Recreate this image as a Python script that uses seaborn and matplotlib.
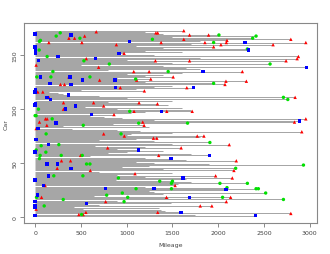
import matplotlib
matplotlib.use("Agg")
import matplotlib.pyplot as plt
import seaborn as sns
import pandas as pd

# end of observation (mileage) for each car, car 1 at the bottom
ends = [2407, 1750, 2795, 1596, 1420, 1380, 520, 1350, 420, 1932,
        700, 562, 1480, 2090, 900, 2714, 1450, 2137, 640, 782,
        1400, 2520, 1300, 1250, 2086, 2440, 2097, 1200, 1530, 1560,
        2320, 1700, 1501, 880, 1650, 2155, 1200, 1973, 900, 1092,
        1500, 700, 2173, 1400, 2192, 950, 1250, 2933, 1900, 1300,
        1100, 2199, 1650, 1483, 1200, 600, 1903, 1700, 800, 1000,
        1400, 1129, 900, 1596, 1200, 650, 2122, 1500, 1910, 1300,
        700, 1100, 1330, 1800, 1845, 1000, 1050, 1500, 2915, 1150,
        900, 400, 1250, 300, 1191, 850, 1666, 2835, 2889, 1300,
        2959, 950, 750, 600, 862, 1050, 1200, 1717, 1700, 900,
        1600, 550, 749, 1450, 1337, 1136, 800, 1500, 2762, 1000,
        2842, 700, 362, 300, 250, 150, 1194, 500, 1100, 1728,
        1300, 1500, 2075, 1951, 1200, 2309, 1110, 1264, 900, 1509,
        1200, 1400, 1000, 1600, 2265, 800, 1800, 1650, 2966, 1400,
        500, 2568, 1500, 1300, 2743, 1000, 2864, 1800, 2878, 1300,
        900, 972, 1600, 1200, 2330, 2320, 1400, 1951, 1100, 2601,
        1700, 2959, 1800, 2097, 2795, 2378, 1500, 2415, 2009, 1400,
        1340, 1200, 1625]
cars = list(range(1, len(ends) + 1))

red_car = [2, 2, 3, 4, 4, 7, 10, 10, 14, 14, 18, 18, 18, 29, 29, 36, 38, 40, 43, 43,
           45, 52, 52, 52, 57, 57, 64, 64, 67, 73, 73, 75, 75, 75, 77, 79, 82, 85, 85,
           88, 88, 88, 91, 91, 91, 95, 98, 98, 98, 100, 103, 105, 106, 106, 106, 111, 111,
           116, 116, 117, 120, 120, 123, 123, 123, 126, 126, 127, 127, 128, 130, 130,
           135, 135, 135, 139, 141, 145, 145, 145, 147, 147, 149, 152, 158, 160, 160, 160,
           162, 162, 162, 162, 162, 162, 164, 165, 165, 166, 166, 168, 169, 169, 171, 171,
           172, 173]
red_mile = [478, 525, 2795, 555, 1340, 11, 1805, 1932, 771, 2090, 70, 1436, 2137, 109, 1530,
            2155, 1973, 1092, 603, 2173, 241, 288, 387, 2199, 497, 1351, 793, 1596, 2122,
            1293, 1330, 975, 1772, 1845, 749, 2915, 11, 128, 1191, 47, 1176, 2835, 113, 131,
            2959, 862, 1081, 1439, 1717, 310, 749, 1337, 310, 639, 1136, 150, 2842, 29, 84,
            1194, 931, 1658, 277, 321, 2075, 2086, 2309, 705, 1110, 1264, 369, 1509, 1078,
            1246, 2265, 694, 11, 1315, 1688, 2743, 559, 2864, 2878, 972, 1951, 888, 2031,
            2601, 150, 511, 1377, 1856, 2090, 2959, 2097, 1625, 2795, 369, 431, 541, 1688,
            1896, 1320, 1340, 668, 1625]

green_car = [2, 10, 14, 16, 16, 18, 18, 18, 20, 22, 22, 26, 26, 26, 26, 27, 31, 31, 31, 33,
             33, 36, 38, 38, 45, 48, 49, 49, 54, 57, 57, 57, 60, 62, 66, 67, 69, 77, 77, 85,
             87, 87, 91, 94, 94, 98, 100, 109, 111, 124, 128, 130, 130, 130, 135, 135, 142,
             142, 145, 149, 155, 156, 162, 163, 164, 165, 166, 166, 168, 168, 169, 171]
green_mile = [508, 99, 972, 307, 2714, 15, 1012, 2049, 782, 953, 2520, 1103, 1490, 2415, 2440,
              2097, 1490, 2020, 2320, 1362, 1501, 910, 204, 522, 2192, 2933, 562, 599, 47, 55,
              285, 515, 117, 11, 66, 259, 1910, 120, 939, 526, 1132, 1666, 186, 0, 11, 1034,
              36, 2762, 2714, 1951, 1099, 18, 172, 599, 194, 1454, 811, 2568, 533, 131, 44,
              2320, 1951, 47, 58, 1282, 489, 2378, 230, 2415, 2009, 274]

blue_car = [1, 1, 4, 9, 10, 12, 14, 18, 20, 25, 26, 26, 29, 34, 36, 38, 45, 49, 49, 54, 57,
            60, 62, 67, 72, 82, 87, 89, 95, 98, 100, 103, 104, 105, 109, 111, 113, 116, 118,
            120, 120, 123, 124, 127, 127, 130, 130, 135, 139, 145, 147, 149, 152, 152, 155,
            155, 158, 162, 163, 169, 170]
blue_mile = [0, 2407, 1596, 0, 0, 562, 0, 1688, 29, 2086, 771, 1300, 91, 0, 1618, 146, 394,
             128, 245, 1483, 1903, 0, 1129, 146, 10, 33, 226, 2889, 614, 1384, 329, 442, 0, 7,
             168, 128, 362, 0, 5, 880, 1728, 394, 164, 515, 873, 58, 383, 1837, 2966, 36, 661,
             252, 7, 917, 7, 2330, 0, 2294, 1034, 394, 0]

events = pd.DataFrame({
    "car": red_car + green_car + blue_car,
    "mile": red_mile + green_mile + blue_mile,
    "type": ["red"] * len(red_car) + ["green"] * len(green_car) + ["blue"] * len(blue_car),
})

sns.set_style("white")
plt.rcParams["font.family"] = ["DejaVu Sans"]

fig = plt.figure(figsize=(3.3, 2.55), dpi=100)
ax = fig.add_axes([0.0736, 0.1216, 0.888, 0.7831])

ax.hlines(cars, 0, ends, color="#8c8c8c", lw=0.55, zorder=1)
sns.scatterplot(data=events, x="mile", y="car", hue="type", style="type",
                palette={"red": "#ff0000", "green": "#00e000", "blue": "#0000ff"},
                markers={"red": "^", "green": "o", "blue": "s"},
                s=6, linewidth=0, legend=False, ax=ax, zorder=3)

xr = max(ends)
ax.set_xlim(-0.04 * xr, xr * 1.04)
yr = len(ends) - 1
ax.set_ylim(1 - 0.04 * yr, len(ends) + 0.04 * yr)
ax.set_xticks([0, 500, 1000, 1500, 2000, 2500, 3000])
ax.set_yticks([0, 50, 100, 150])
ax.set_yticklabels(["0", "50", "100", "150"], rotation=90, va="center")
ax.tick_params(axis="both", direction="out", length=3, width=0.6, color="#777777",
               labelsize=4.5, labelcolor="#444444", pad=2, bottom=True, left=True)
for sp in ax.spines.values():
    sp.set_color("#888888")
    sp.set_linewidth(0.8)
ax.set_xlabel("Mileage", fontsize=4.5, color="#444444", labelpad=5)
ax.set_ylabel("Car", fontsize=4.5, color="#444444", labelpad=3)

fig.savefig("out.png", dpi=100)
